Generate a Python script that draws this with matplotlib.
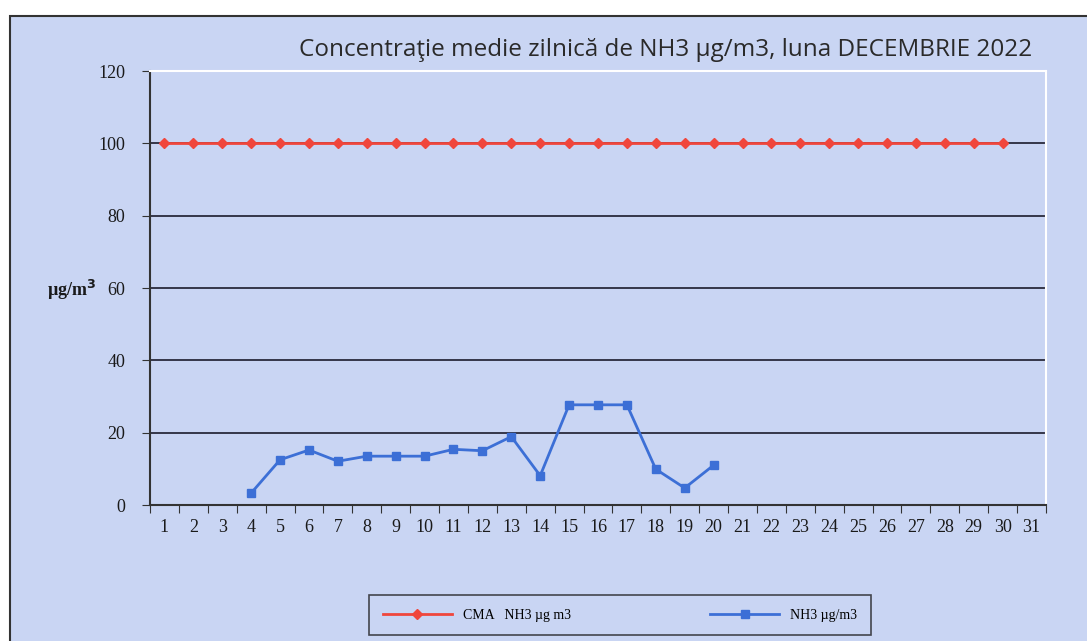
import matplotlib.pyplot as plt
import numpy as np
from matplotlib.patches import Rectangle

# Daily NH3 concentrations, December 2022
days = list(range(1, 32))
cma_days = list(range(1, 31))
cma_values = [100] * 30
nh3_days = [4, 5, 6, 7, 8, 9, 10, 11, 12, 13, 14, 15, 16, 17, 18, 19, 20]
nh3_values = [3.3, 12.5, 15.2, 12.1, 13.5, 13.5, 13.5, 15.4, 15.0, 18.9, 8.1,
              27.7, 27.7, 27.7, 9.9, 4.7, 11.0]
y_ticks = [0, 20, 40, 60, 80, 100, 120]

bg = '#c9d5f3'
serif = ['Liberation Serif', 'DejaVu Serif']

fig = plt.figure(figsize=(10.87, 6.41), dpi=100)
fig.patch.set_facecolor('white')
# chart frame
fig.patches.append(Rectangle((10 / 1087, -0.01), 1.02, 1 - 16 / 641 + 0.01,
                             transform=fig.transFigure, facecolor=bg,
                             edgecolor='#333333', linewidth=1.5, zorder=0))

ax = fig.add_axes([150 / 1087, 1 - 505 / 641, (1046 - 150) / 1087, (505 - 71) / 641])
ax.set_zorder(2)
ax.set_facecolor(bg)

for v in y_ticks[1:]:
    ax.axhline(v, color='#1c1c2c', linewidth=1.2, zorder=1)

ax.plot(cma_days, cma_values, color='#f0463c', marker='D', markersize=5,
        linewidth=2, label='CMA   NH3 µg m3', zorder=3)
ax.plot(nh3_days, nh3_values, color='#3c6fd6', marker='s', markersize=6,
        linewidth=2, label='NH3 µg/m3', zorder=3)

ax.set_xlim(0.5, 31.5)
ax.set_ylim(0, 120)
ax.set_yticks(y_ticks)
ax.set_yticklabels([str(v) for v in y_ticks], family=serif, fontsize=13, color='#1a1a1a')
ax.set_xticks(np.arange(0.5, 32, 1))
ax.set_xticklabels([])
ax.set_xticks(days, minor=True)
ax.set_xticklabels([str(d) for d in days], minor=True, family=serif, fontsize=13,
                   color='#1a1a1a')
ax.tick_params(axis='x', which='major', length=6, direction='out', color='#333333')
ax.tick_params(axis='x', which='minor', length=0, pad=10)
ax.tick_params(axis='y', length=6, direction='out', color='#333333', pad=12)

for s in ['top', 'right']:
    ax.spines[s].set_color('white')
    ax.spines[s].set_linewidth(1.5)
for s in ['left', 'bottom']:
    ax.spines[s].set_color('#333333')
    ax.spines[s].set_linewidth(1.5)

fig.text(72 / 1087, 1 - 290 / 641, 'µg/m$^{\\mathbf{3}}$', family=serif, fontsize=13,
         fontweight='bold', ha='center', va='center', color='#1a1a1a')

fig.text(1032 / 1087, 1 - 50 / 641, 'Concentraţie medie zilnică de NH3 µg/m3, luna DECEMBRIE 2022',
         family=['Open Sans', 'DejaVu Sans'], fontsize=17.5, ha='right', va='center',
         color='#2a2a2a')

leg = fig.legend(loc='center', bbox_to_anchor=(620 / 1087, 1 - 615 / 641), ncol=2,
                 prop={'family': serif, 'size': 10}, frameon=True, fancybox=False,
                 columnspacing=10, handlelength=5, borderpad=1.0)
leg.get_frame().set_edgecolor('#222222')
leg.get_frame().set_facecolor('none')
leg.get_frame().set_linewidth(1.2)

fig.savefig('out.png', dpi=100, facecolor=fig.get_facecolor())
